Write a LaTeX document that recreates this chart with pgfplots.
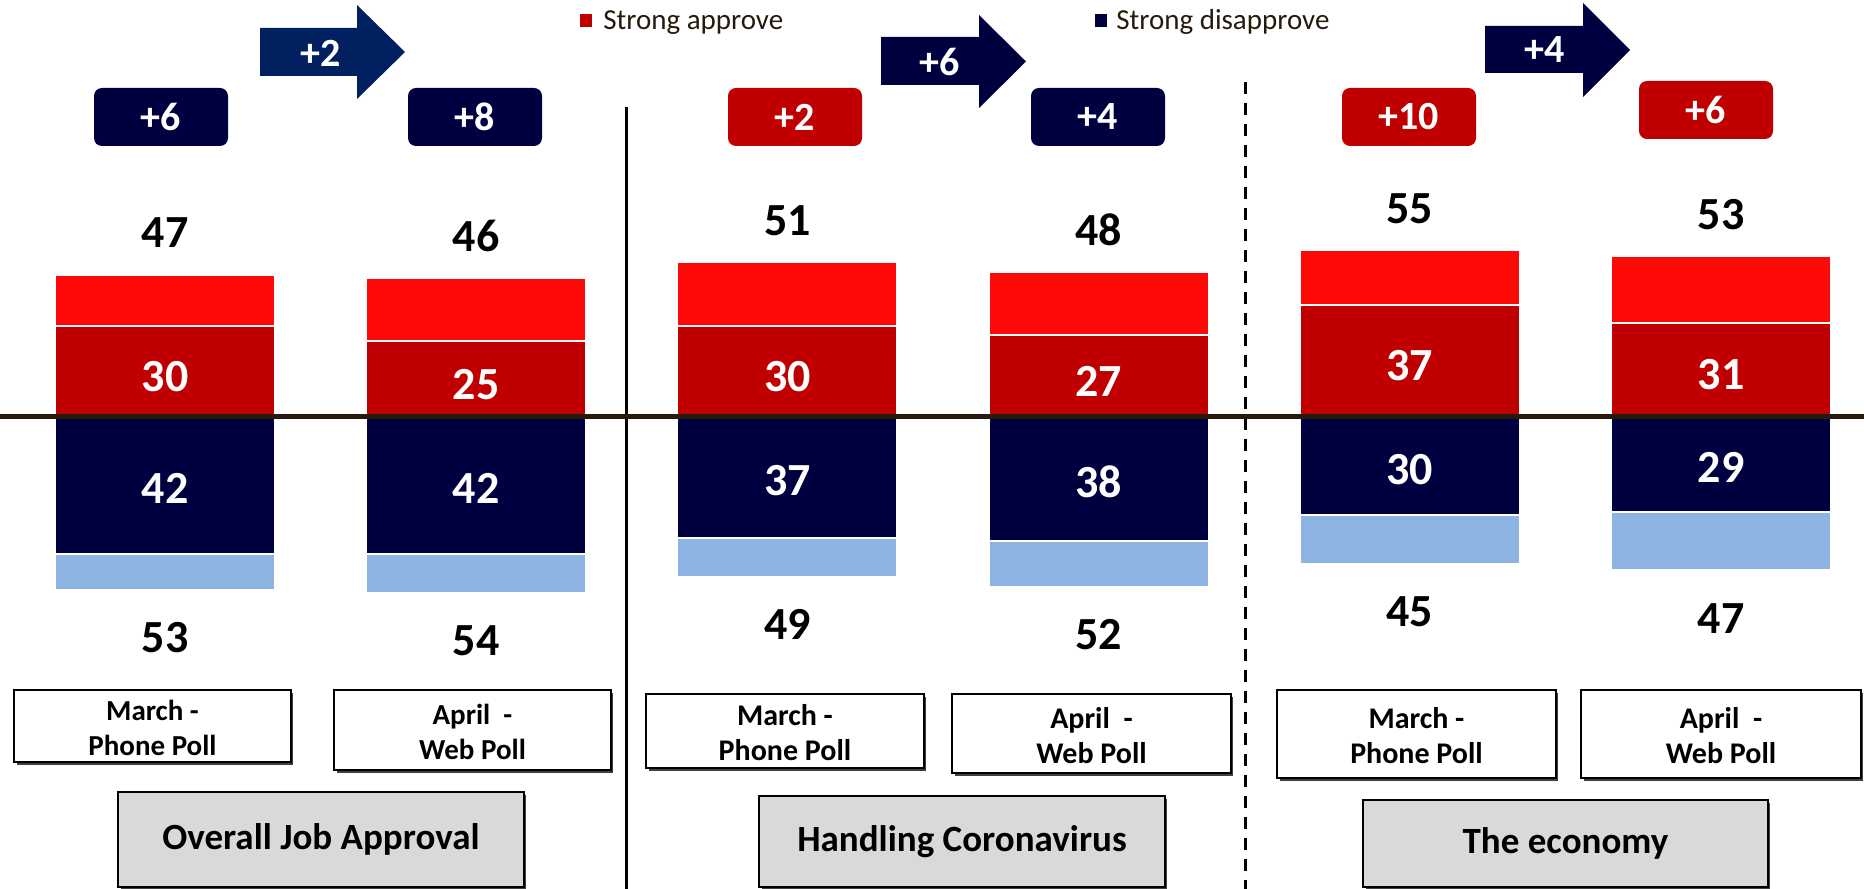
\documentclass[border=0pt]{standalone}
\usepackage{pgfplots}
\pgfplotsset{compat=1.18}
\usepackage{fontspec}
\setmainfont{Carlito}
\definecolor{brightred}{RGB}{255,8,8}
\definecolor{darkred}{RGB}{192,0,0}
\definecolor{navy}{RGB}{0,0,64}
\definecolor{arrowblue}{RGB}{0,32,96}
\definecolor{lightblue}{RGB}{142,180,227}
\definecolor{zeroline}{RGB}{38,26,12}
\definecolor{boxgray}{RGB}{217,217,217}
\definecolor{legtext}{RGB}{38,26,12}
\newcommand{\vfont}{\fontsize{23}{27}\selectfont\bfseries}
\newcommand{\bfont}{\fontsize{20}{24}\selectfont\bfseries}
\pgfplotsset{barbase/.style={at={(0,0)}, anchor=south west, scale only axis,
  width=932pt, height=444.5pt, xmin=-0.5302, xmax=5.4595, hide axis, clip=false}}
\begin{document}
\begin{tikzpicture}
\useasboundingbox (0,0) rectangle (932pt,444.5pt);
% ---------- decorations in pixel coordinates ----------
\begin{scope}[x=0.5pt,y=-0.5pt,shift={(0pt,444.5pt)}]
  % separators
  \draw[black, line width=1.5pt] (626,107) -- (626,889);
  \draw[black, line width=1.5pt, dash pattern=on 6pt off 4.5pt] (1245,82) -- (1245,889);
  % legend
  \fill[darkred] (580,14) rectangle (592,27);
  \node[anchor=base west, inner sep=0pt, text=legtext, font=\fontsize{14.5}{17}\selectfont] at (603,30) {Strong approve};
  \fill[navy] (1095,14) rectangle (1107,27);
  \node[anchor=base west, inner sep=0pt, text=legtext, font=\fontsize{14.5}{17}\selectfont] at (1116,30) {Strong disapprove};
  % arrows
  \fill[arrowblue] (260,28) -- (357,28) -- (357,5) -- (405,52) -- (357,99) -- (357,76) -- (260,76) -- cycle;
  \node[text=white, font=\bfont] at (321,53) {+2};
  \fill[navy] (881,37) -- (979,37) -- (979,15) -- (1026,61.5) -- (979,108) -- (979,85) -- (881,85) -- cycle;
  \node[text=white, font=\bfont] at (940,62) {+6};
  \fill[navy] (1485,26) -- (1583,26) -- (1583,3) -- (1630,50) -- (1583,97) -- (1583,73) -- (1485,73) -- cycle;
  \node[text=white, font=\bfont] at (1545,50) {+4};
  % net boxes
  \node[fill=navy, rounded corners=4pt, minimum width=67pt, minimum height=29pt, text=white, font=\bfont] at (161,117) {+6};
  \node[fill=navy, rounded corners=4pt, minimum width=67pt, minimum height=29pt, text=white, font=\bfont] at (475,117) {+8};
  \node[fill=darkred, rounded corners=4pt, minimum width=67pt, minimum height=29pt, text=white, font=\bfont] at (795,117) {+2};
  \node[fill=navy, rounded corners=4pt, minimum width=67pt, minimum height=29pt, text=white, font=\bfont] at (1098,117) {+4};
  \node[fill=darkred, rounded corners=4pt, minimum width=67pt, minimum height=29pt, text=white, font=\bfont] at (1409,117) {+10};
  \node[fill=darkred, rounded corners=4pt, minimum width=67pt, minimum height=29pt, text=white, font=\bfont] at (1706,110) {+6};
  % poll boxes
  \foreach \xa/\xb/\ya/\yb/\fs/\txt in {14/291/690/762/14.5/{March -\\Phone Poll}, 334/611/690/770/14.5/{April\ \ -\\Web Poll}, 646/924/694/768/15/{March -\\Phone Poll}, 952/1231/694/773/15/{April\ \ -\\Web Poll}, 1277/1556/690/778/15/{March -\\Phone Poll}, 1581/1861/690/778/15/{April\ \ -\\Web Poll}}{
    \fill[black!75] (\xa+3,\ya+3) rectangle (\xb+2,\yb+3);
    \draw[black, fill=white, line width=0.8pt] (\xa,\ya) rectangle (\xb,\yb);
    \node[align=center, font=\fontsize{\fs}{17.5}\selectfont\bfseries] at ({(\xa+\xb)/2},{(\ya+\yb)/2+2}) {\txt};
  }
  % group boxes
  \foreach \xa/\xb/\ya/\yb/\txt in {118/524/792/887/{Overall Job Approval}, 759/1165/796/887/{Handling Coronavirus}, 1363/1768/800/887/{The economy}}{
    \fill[black!75] (\xa+3,\ya+3) rectangle (\xb+2,\yb+2);
    \draw[black, fill=boxgray, line width=0.8pt] (\xa,\ya) rectangle (\xb,\yb);
    \node[font=\fontsize{18.5}{21}\selectfont\bfseries] at ({(\xa+\xb)/2},{(\ya+\yb)/2}) {\txt};
  }
\end{scope}
% ---------- disapprove side (its own scale, as in the original) ----------
\begin{axis}[barbase, ymin=-144.79, ymax=127.91]
  % total disapprove
  \addplot[ybar, bar width=110pt, bar shift=0pt, fill=lightblue, draw=white, line width=1pt]
    coordinates {(0,-53) (1,-54) (2,-49) (3,-52) (4,-45) (5,-47)};
  % strong disapprove
  \addplot[ybar, bar width=110pt, bar shift=0pt, fill=navy, draw=white, line width=1pt]
    coordinates {(0,-42) (1,-42) (2,-37) (3,-38) (4,-30) (5,-29)};
  \begin{scope}[every node/.style={font=\vfont, yshift=-3pt}]
  \node at (axis cs:0,-65.9) {53};
  \node at (axis cs:1,-66.9) {54};
  \node at (axis cs:2,-61.9) {49};
  \node at (axis cs:3,-64.9) {52};
  \node at (axis cs:4,-57.9) {45};
  \node at (axis cs:5,-59.9) {47};
  \end{scope}
  \node[font=\vfont, text=white] at (axis cs:0,-22) {42};
  \node[font=\vfont, text=white] at (axis cs:1,-22) {42};
  \node[font=\vfont, text=white] at (axis cs:2,-19.5) {37};
  \node[font=\vfont, text=white] at (axis cs:3,-20) {38};
  \node[font=\vfont, text=white] at (axis cs:4,-16) {30};
  \node[font=\vfont, text=white] at (axis cs:5,-15.5) {29};
\end{axis}
% ---------- approve side ----------
\begin{axis}[barbase, ymin=-155.78, ymax=137.62]
  % total approve
  \addplot[ybar, bar width=110pt, bar shift=0pt, fill=brightred, draw=white, line width=1pt]
    coordinates {(0,47) (1,46) (2,51) (3,48) (4,55) (5,53)};
  % strong approve
  \addplot[ybar, bar width=110pt, bar shift=0pt, fill=darkred, draw=white, line width=1pt]
    coordinates {(0,30) (1,25) (2,30) (3,27) (4,37) (5,31)};
  \draw[zeroline, line width=2.5pt] (axis cs:-0.5302,0) -- (axis cs:5.4595,0);
  \node[font=\vfont] at (axis cs:0,60.7) {47};
  \node[font=\vfont] at (axis cs:1,59.7) {46};
  \node[font=\vfont] at (axis cs:2,64.7) {51};
  \node[font=\vfont] at (axis cs:3,61.7) {48};
  \node[font=\vfont] at (axis cs:4,68.7) {55};
  \node[font=\vfont] at (axis cs:5,66.7) {53};
  \begin{scope}[every node/.style={font=\vfont, text=white, yshift=-2.5pt}]
  \node at (axis cs:0,15) {30};
  \node at (axis cs:1,12.5) {25};
  \node at (axis cs:2,15) {30};
  \node at (axis cs:3,13.5) {27};
  \node at (axis cs:4,18.5) {37};
  \node at (axis cs:5,15.5) {31};
  \end{scope}
\end{axis}
\end{tikzpicture}
\end{document}
